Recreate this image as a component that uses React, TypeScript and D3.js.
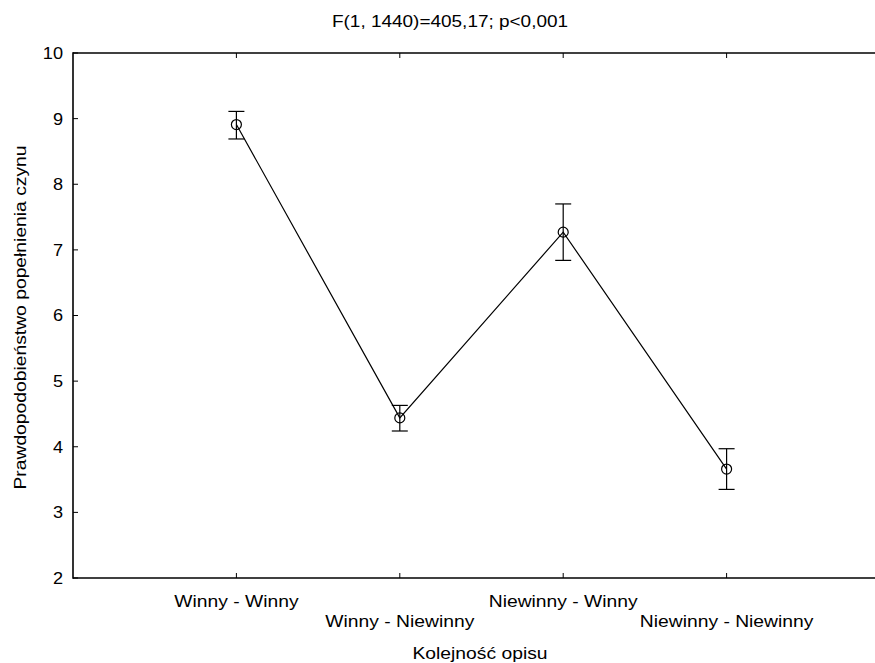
import React, { useEffect } from "react";
import * as d3 from "d3";

const categories = ["Winny - Winny", "Winny - Niewinny", "Niewinny - Winny", "Niewinny - Niewinny"];
const means = [8.91, 4.44, 7.27, 3.66];
const upper = [9.11, 4.63, 7.70, 3.97];
const lower = [8.69, 4.24, 6.84, 3.35];
const yTicks = [2, 3, 4, 5, 6, 7, 8, 9, 10];
const title = "F(1, 1440)=405,17; p<0,001";
const xTitle = "Kolejność opisu";
const yTitle = "Prawdopodobieństwo popełnienia czynu";

const W = 875;
const H = 663;
const M = { left: 73, top: 53, right: 890, bottom: 578 };
const FONT = "'Liberation Sans', Arial, sans-serif";
const FS = 16.5;

function SText(props: {
  x: number;
  y: number;
  sx: number;
  anchor?: string;
  rotate?: number;
  dy?: string;
  children: React.ReactNode;
}) {
  const { x, y, sx, anchor, rotate, dy, children } = props;
  return (
    <text
      transform={`translate(${x},${y})${rotate ? ` rotate(${rotate})` : ""} scale(${sx},1)`}
      textAnchor={anchor || "middle"}
      dy={dy}
      fontFamily={FONT}
      fontSize={FS}
      fill="#000"
    >
      {children}
    </text>
  );
}

export default function App() {
  useEffect(() => {
    document.body.style.margin = "0";
    document.body.style.overflow = "hidden";
  }, []);
  const x = d3.scalePoint<string>().domain(categories).range([M.left, M.right]).padding(1);
  const y = d3.scaleLinear().domain([2, 10]).range([M.bottom, M.top]);
  const line = d3
    .line<number>()
    .x((_, i) => x(categories[i]) as number)
    .y((d) => y(d));
  const cap = 8;
  const tick = 5;
  return (
    <svg width={W} height={H} style={{ position: "absolute", left: 0, top: 0, display: "block", background: "#fff" }}>
      <SText x={450} y={27} sx={1.15}>
        {title}
      </SText>
      <line x1={M.left} x2={M.right} y1={M.top} y2={M.top} stroke="#000" strokeWidth={1.6} />
      <line x1={M.left} x2={M.right} y1={M.bottom} y2={M.bottom} stroke="#000" strokeWidth={1.6} />
      <line x1={M.left} x2={M.left} y1={M.top - 0.8} y2={M.bottom + 0.8} stroke="#000" strokeWidth={1.6} />
      {yTicks.map((t) => (
        <g key={t}>
          <line x1={M.left} x2={M.left + tick} y1={y(t)} y2={y(t)} stroke="#000" strokeWidth={1} />
          <SText x={M.left - 10} y={y(t)} sx={1.1} anchor="end" dy="0.36em">
            {t}
          </SText>
        </g>
      ))}
      {categories.map((c, i) => (
        <g key={c}>
          <line x1={x(c)} x2={x(c)} y1={M.bottom} y2={M.bottom - tick} stroke="#000" strokeWidth={1} />
          <line x1={x(c)} x2={x(c)} y1={M.top} y2={M.top + tick} stroke="#000" strokeWidth={1} />
          <SText x={x(c) as number} y={i % 2 === 0 ? 607 : 627} sx={1.17}>
            {c}
          </SText>
        </g>
      ))}
      <SText x={480} y={659} sx={1.17}>
        {xTitle}
      </SText>
      <SText x={26} y={(M.top + M.bottom) / 2 + 2} sx={1.17} rotate={-90}>
        {yTitle}
      </SText>
      <path d={line(means) || ""} fill="none" stroke="#000" strokeWidth={1.2} />
      {categories.map((c, i) => {
        const cx = x(c) as number;
        return (
          <g key={"e" + c}>
            <line x1={cx} x2={cx} y1={y(upper[i])} y2={y(lower[i])} stroke="#000" strokeWidth={1.2} />
            <line x1={cx - cap} x2={cx + cap} y1={y(upper[i])} y2={y(upper[i])} stroke="#000" strokeWidth={1.2} />
            <line x1={cx - cap} x2={cx + cap} y1={y(lower[i])} y2={y(lower[i])} stroke="#000" strokeWidth={1.2} />
            <circle cx={cx} cy={y(means[i])} r={5} fill="none" stroke="#000" strokeWidth={1.2} />
          </g>
        );
      })}
    </svg>
  );
}
